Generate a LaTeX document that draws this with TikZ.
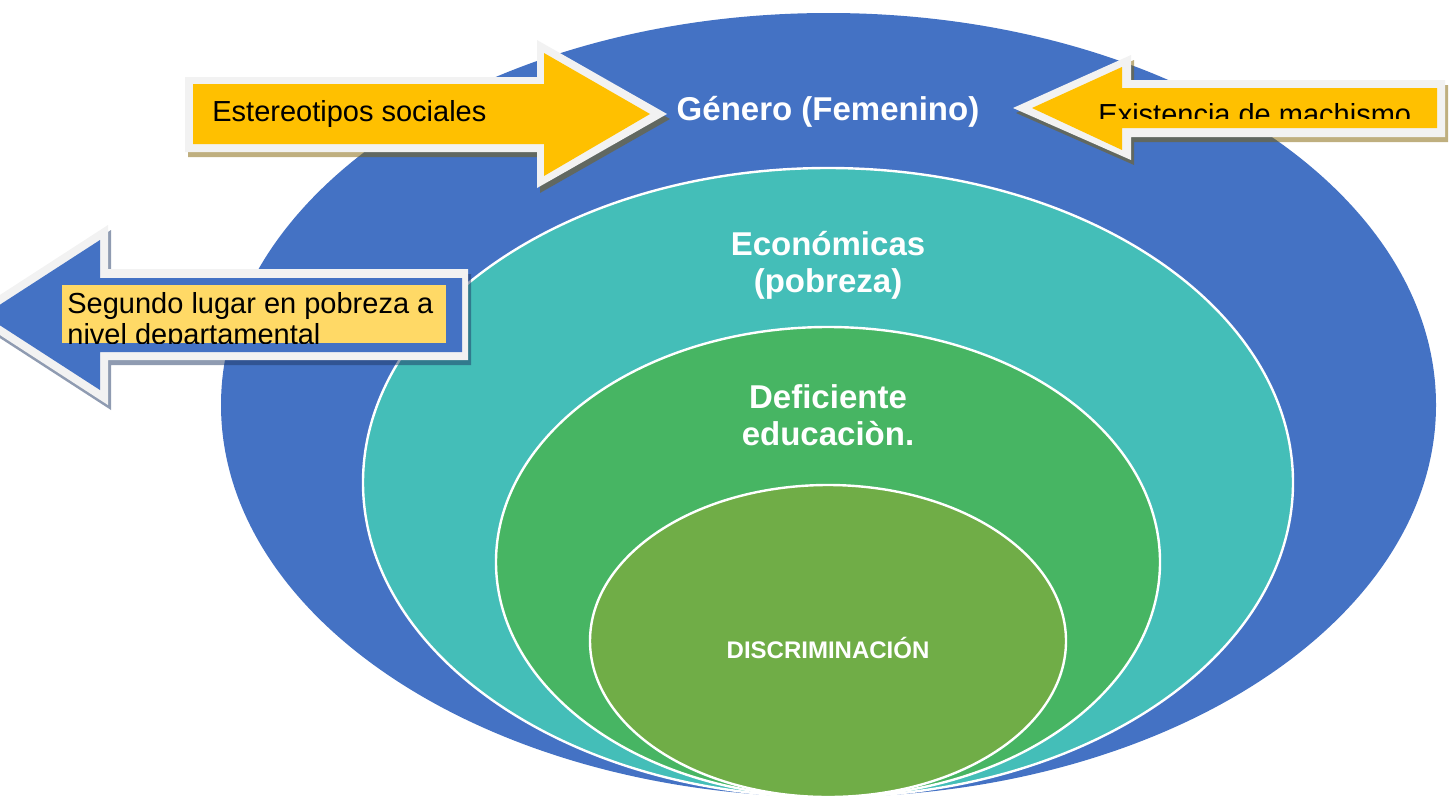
\documentclass[tikz,border=0pt]{standalone}
\usepackage{fontspec}
\setmainfont{Liberation Sans}
\usepackage{xcolor}
\definecolor{capaAzul}{HTML}{4472C4}
\definecolor{capaTurquesa}{HTML}{44BEB8}
\definecolor{capaVerde}{HTML}{47B563}
\definecolor{capaOliva}{HTML}{70AD47}
\definecolor{flechaAmarilla}{HTML}{FFC000}
\definecolor{cajaAmarilla}{HTML}{FFD966}
\definecolor{bordeFlecha}{HTML}{F2F2F2}
\definecolor{sombraOro}{HTML}{7F6000}
\definecolor{sombraAzul}{HTML}{1F3864}

\begin{document}
\begin{tikzpicture}[x=0.5pt, y=-0.5pt,
     capa/.style={draw=white, line width=1.2pt},
     etiqueta/.style={text=white, font=\bfseries\fontsize{16.5}{18.5}\selectfont, align=center, inner sep=0pt},
     textoflecha/.style={text=black, font=\fontsize{14.5}{15.5}\selectfont, inner sep=0pt},
     sombra/.style={fill opacity=0.5, shift={(3,5)}}]
    \clip (0,0) rectangle (1450,798);
    %capas
    \fill[capaAzul] (828.5,405) ellipse [x radius=607.5, y radius=392];
    \filldraw[capa, fill=capaTurquesa] (828,482.5) ellipse [x radius=465, y radius=314.5];
    \filldraw[capa, fill=capaVerde] (828,562) ellipse [x radius=332, y radius=235];
    \filldraw[capa, fill=capaOliva] (828,641) ellipse [x radius=238, y radius=156];

    %flecha Estereotipos
    \fill[sombraOro, sombra] (185,77) -- (537,77) -- (537,40) -- (667,114) -- (537,188) -- (537,152) -- (185,152) -- cycle;
    \fill[bordeFlecha] (185,77) -- (537,77) -- (537,40) -- (667,114) -- (537,188) -- (537,152) -- (185,152) -- cycle;
    \fill[flechaAmarilla] (193,84) -- (544,84) -- (544,53) -- (650,114) -- (544,176) -- (544,144) -- (193,144) -- cycle;
    \node[textoflecha, anchor=base west] (estereotipos) at (212,121) {Estereotipos sociales};

    %flecha machismo
    \fill[sombraOro, sombra] (1013,108) -- (1131,55) -- (1131,80) -- (1445,80) -- (1445,137) -- (1131,137) -- (1131,160) -- cycle;
    \fill[bordeFlecha] (1013,108) -- (1131,55) -- (1131,80) -- (1445,80) -- (1445,137) -- (1131,137) -- (1131,160) -- cycle;
    \fill[flechaAmarilla] (1032,108) -- (1122,67) -- (1122,88) -- (1437,88) -- (1437,128) -- (1122,128) -- (1122,150) -- cycle;
    \begin{scope}
      \clip (1095,88) rectangle (1437,118);
      \node[textoflecha, anchor=base west] (machismo) at (1098,124) {Existencia de machismo};
    \end{scope}

    %flecha pobreza
    \fill[sombraAzul, sombra] (-31,315) -- (108,225) -- (108,269) -- (468,269) -- (468,360) -- (108,360) -- (108,405) -- cycle;
    \fill[bordeFlecha] (-31,315) -- (108,225) -- (108,269) -- (468,269) -- (468,360) -- (108,360) -- (108,405) -- cycle;
    \fill[capaAzul] (-16,315) -- (100,240) -- (100,278) -- (462,278) -- (462,352) -- (100,352) -- (100,390) -- cycle;
    \fill[cajaAmarilla] (62,285) rectangle (446,343);
    \begin{scope}
      \clip (62,285) rectangle (446,343);
      \node[textoflecha, anchor=base west, align=left] (pobrezaDep) at (67,344) {Segundo lugar en pobreza a\\nivel departamental};
    \end{scope}

    %labels
    \node[etiqueta, anchor=base] (genero) at (828,120) {Género (Femenino)};
    \node[etiqueta, anchor=base] (economicas) at (828,292) {Económicas\\(pobreza)};
    \node[etiqueta, anchor=base] (educacion) at (828,445) {Deficiente\\educaciòn.};
    \node[etiqueta, font=\bfseries\fontsize{12}{14}\selectfont, anchor=base] (discriminacion) at (828,658) {DISCRIMINACIÓN};
\end{tikzpicture}
\end{document}
